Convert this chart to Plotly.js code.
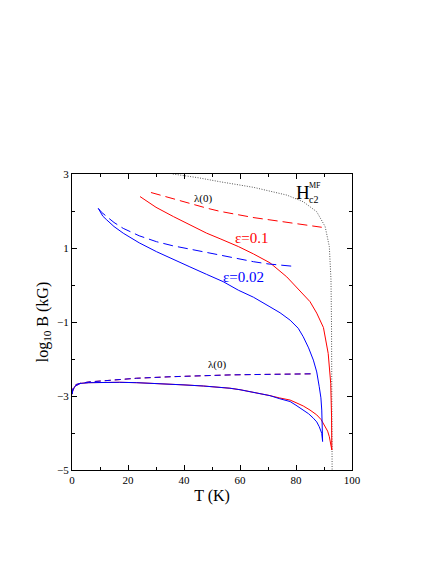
<!DOCTYPE html>
<html>
<head>
<meta charset="utf-8">
<script src="https://cdn.plot.ly/plotly-3.0.1.min.js"></script>
<style>
  html, body { margin: 0; padding: 0; background: #fff; }
  #chart { width: 436px; height: 564px; }
</style>
</head>
<body>
<div id="chart"></div>
<script>
// log10 B vs T for two anisotropies (eps = 0.1 red, eps = 0.02 blue),
// with the lambda(0) dashed curves and the mean-field Hc2 dotted line.

// mean-field Hc2
const hc2T = [36, 45, 52.9, 64.8, 76.7, 82.6, 87.4, 90.4, 91.9, 92.5, 92.7, 92.85, 92.9];
const hc2B = [3.0, 2.9, 2.79, 2.64, 2.43, 2.25, 1.98, 1.58, 1.04, 0.14, -1.22, -3.0, -5.0];

// eps = 0.1, upper branch (solid) and lambda(0) (dashed)
const redUpT = [24.3, 30, 36.2, 42, 48.1, 52.9, 59.4, 64.8, 70.7, 76.7, 82.6, 85, 87.4, 89.8, 91.5, 92.4, 92.7, 92.8];
const redUpB = [2.39, 2.10, 1.85, 1.62, 1.40, 1.25, 1.04, 0.84, 0.60, 0.22, -0.27, -0.45, -0.76, -1.15, -1.85, -2.66, -3.56, -4.46];
const redLamT = [28.2, 35, 42.1, 48, 52.9, 59.4, 65, 70.7, 76, 82, 89.2];
const redLamB = [2.50, 2.35, 2.21, 2.08, 1.99, 1.89, 1.82, 1.76, 1.70, 1.63, 1.56];

// eps = 0.1, lower branch
const redLowT = [0, 0.3, 1, 2.9, 6, 11.2, 17, 23.1, 30, 35, 40, 46.9, 52, 56.4, 60, 65, 70.7, 74, 77.9, 80, 82.6, 85, 87.4, 89, 90.4, 91.3, 91.9, 92.4, 92.8];
const redLowB = [-2.95, -2.85, -2.74, -2.66, -2.64, -2.63, -2.63, -2.64, -2.66, -2.68, -2.70, -2.73, -2.76, -2.79, -2.83, -2.90, -2.99, -3.05, -3.11, -3.18, -3.27, -3.38, -3.51, -3.64, -3.83, -3.95, -4.10, -4.28, -4.46];

// eps = 0.02, upper branch (solid) and lambda(0) (dashed)
const blueUpT = [9.4, 10.2, 11, 12.4, 15, 18.3, 24, 30.2, 36, 42.1, 48, 54, 59.4, 64.8, 70.7, 74.3, 77.9, 80.8, 82.6, 84.5, 86.2, 87.4, 88.3, 88.9, 89.2, 89.5];
const blueUpB = [2.07, 1.95, 1.86, 1.76, 1.58, 1.40, 1.14, 0.90, 0.69, 0.49, 0.29, 0.09, -0.14, -0.33, -0.59, -0.75, -0.95, -1.17, -1.40, -1.70, -2.03, -2.35, -2.75, -3.05, -3.38, -4.23];
const blueLamT = [9.4, 10.5, 12.4, 15, 18.3, 24, 30.2, 36, 42.1, 48, 52.9, 58.8, 64.8, 70, 74, 78.4];
const blueLamB = [2.07, 1.97, 1.85, 1.69, 1.53, 1.33, 1.17, 1.06, 0.97, 0.88, 0.80, 0.71, 0.63, 0.57, 0.54, 0.51];

// eps = 0.02, lower branch
const blueLowT = [0, 0.3, 1, 2.9, 6, 11.2, 17, 23.1, 30, 35, 40, 46.9, 52, 56.4, 60, 65, 70.7, 74, 77.9, 80, 82.6, 84.5, 86.2, 87.4, 88.3, 89.2, 89.5];
const blueLowB = [-2.95, -2.85, -2.74, -2.66, -2.64, -2.63, -2.63, -2.64, -2.66, -2.68, -2.70, -2.73, -2.76, -2.79, -2.83, -2.90, -2.99, -3.07, -3.15, -3.25, -3.38, -3.48, -3.60, -3.70, -3.83, -4.01, -4.23];

// lambda(0) at low field (red and blue lie on top of each other)
const lamLowT = [0, 0.5, 1.5, 2.9, 6, 11.2, 17, 23.1, 35, 45, 56.4, 65, 75, 86.2];
const lamLowB = [-2.95, -2.75, -2.69, -2.66, -2.62, -2.59, -2.55, -2.52, -2.48, -2.45, -2.43, -2.42, -2.41, -2.40];

const RED = "#ff0000", BLUE = "#0000ff";
const FONT = "Liberation Serif, Times New Roman, serif";

function line(x, y, color, dash, width) {
  return { x, y, mode: "lines", hoverinfo: "none", showlegend: false,
           line: { color, width: width || 1, dash: dash || "solid" } };
}

const traces = [
  line(hc2T, hc2B, "#555555", "1px,1.5px", 1),
  line(redLamT, redLamB, RED, "10px,5px"),
  line(redUpT, redUpB, RED),
  line(redLowT, redLowB, RED),
  line(lamLowT, lamLowB, RED, "6px,4px"),
  line(blueLamT, blueLamB, BLUE, "10px,5px"),
  line(blueUpT, blueUpB, BLUE),
  line(blueLowT, blueLowB, BLUE),
  line(lamLowT, lamLowB, BLUE, "6px,4px"),
];

function note(x, y, text, size, color) {
  return { x, y, xref: "x", yref: "y", text, showarrow: false,
           font: { family: FONT, size, color: color || "#000" } };
}

const axis = {
  showline: true, linecolor: "#000", linewidth: 1, mirror: "allticks",
  ticks: "inside", ticklen: 5, tickwidth: 1, tickcolor: "#000",
  showgrid: false, zeroline: false,
  tickfont: { family: FONT, size: 11, color: "#000" },
};

const layout = {
  width: 436, height: 564,
  paper_bgcolor: "#fff", plot_bgcolor: "#fff",
  margin: { l: 72, r: 84, t: 174, b: 94 },
  font: { family: FONT, color: "#000" },
  xaxis: Object.assign({}, axis, {
    range: [0, 100], dtick: 20, tick0: 0,
    minor: { dtick: 10, ticklen: 3, ticks: "inside", tickcolor: "#000" },
    title: { text: "T (K)", font: { family: FONT, size: 16 }, standoff: 4 },
  }),
  yaxis: Object.assign({}, axis, {
    range: [-5, 3], dtick: 2, tick0: -5,
    minor: { dtick: 1, ticklen: 3, ticks: "inside", tickcolor: "#000" },
    title: { text: "log<sub>10</sub> B (kG)", font: { family: FONT, size: 16 }, standoff: 4 },
  }),
  annotations: [
    note(46.9, 2.34, "λ(0)", 11),
    note(51.7, -2.16, "λ(0)", 11),
    note(64.2, 1.26, "ε=0.1", 15, RED),
    note(61.4, 0.22, "ε=0.02", 15, BLUE),
    note(82.5, 2.49, "H", 19),
    note(86.8, 2.69, "MF", 8),
    note(86.4, 2.30, "c2", 10),
  ],
};

Plotly.newPlot("chart", traces, layout, { displayModeBar: false, staticPlot: true });
</script>
</body>
</html>
